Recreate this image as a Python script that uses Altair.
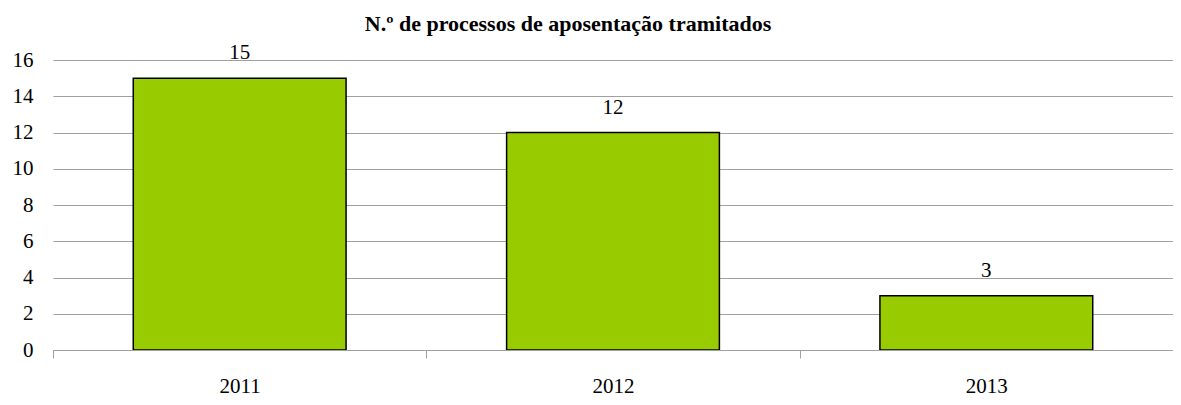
import altair as alt
import pandas as pd

years = ["2011", "2012", "2013"]
values = [15, 12, 3]
title_text = "N.º de processos de aposentação tramitados"

df = pd.DataFrame({"ano": years, "valor": values})
tdf = pd.DataFrame({"t": [title_text]})

FONT = "Liberation Serif"

base = alt.Chart(df).encode(
    x=alt.X("ano:N", sort=years, title=None,
            scale=alt.Scale(paddingInner=0, paddingOuter=0),
            axis=alt.Axis(labelAngle=0, tickBand="extent", tickSize=8,
                          tickColor="#A0A0A0", domainColor="#A0A0A0", zindex=1,
                          labelFont=FONT, labelFontSize=21, labelColor="#000000",
                          labelPadding=17, grid=False)),
    y=alt.Y("valor:Q", title=None,
            scale=alt.Scale(domain=[0, 16], nice=False),
            axis=alt.Axis(values=[0, 2, 4, 6, 8, 10, 12, 14, 16], ticks=False, domain=False,
                          gridColor="#A0A0A0", gridWidth=1,
                          labelFont=FONT, labelFontSize=21, labelColor="#000000",
                          labelPadding=20)),
)

bars = base.mark_bar(color="#99CC00", stroke="#000000", strokeWidth=1.5,
                     width=alt.RelativeBandSize(0.57))
labels = base.mark_text(dy=-19, baseline="alphabetic", font=FONT, fontSize=21,
                        color="#000000").encode(text="valor:Q")

title = alt.Chart(tdf).mark_text(font=FONT, fontSize=22, fontWeight="bold",
                                 color="#000000", align="center",
                                 baseline="alphabetic").encode(
    x=alt.value(515), y=alt.value(-29), text="t:N")

chart = (bars + labels + title).properties(
    width=1120, height=290,
    padding={"left": 45, "top": 52, "right": 0, "bottom": 47},
    autosize=alt.AutoSizeParams(type="none"),
).configure_view(stroke=None)

chart.save("out.html", embed_options={"renderer": "svg", "actions": False})
